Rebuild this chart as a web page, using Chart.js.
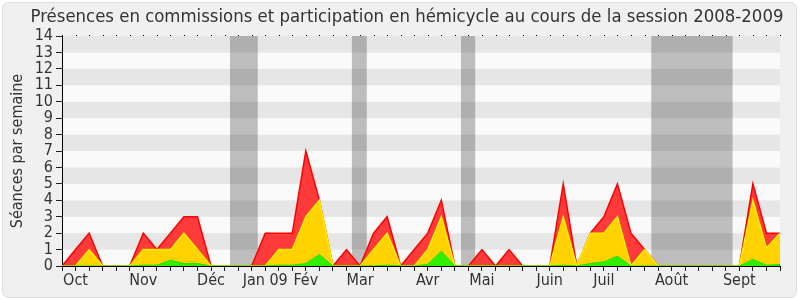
<!DOCTYPE html>
<html>
<head>
<meta charset="utf-8">
<script src="https://cdn.jsdelivr.net/npm/chart.js@4"></script>
<style>
  html, body { margin: 0; padding: 0; background: #fff; }
  #wrap { width: 800px; height: 300px; }
</style>
</head>
<body>
<div id="wrap"><canvas id="myChart" width="800" height="300"></canvas></div>
<script>
// Weekly values, session 2008-2009 (54 weeks)
const total = [0, 1, 2, 0, 0, 0, 2, 1, 2, 3, 3, 0, 0, 0, 0, 2, 2, 2, 7, 4, 0, 1, 0, 2, 3, 0, 1, 2, 4, 0,
               0, 1, 0, 1, 0, 0, 0, 5, 0, 2, 3, 5, 2, 1, 0, 0, 0, 0, 0, 0, 0, 5, 2, 2];
const commissions = [0, 0, 1, 0, 0, 0, 1, 1, 1, 2, 1, 0, 0, 0, 0, 0, 1, 1, 3, 4, 0, 0, 0, 1, 2, 0, 0, 1, 3, 0,
               0, 0, 0, 0, 0, 0, 0, 3, 0, 2, 2, 3, 0, 1, 0, 0, 0, 0, 0, 0, 0, 4, 1.1, 2];
const hemicycle = [0, 0, 0, 0, 0, 0, 0.05, 0.05, 0.35, 0.15, 0.15, 0, 0, 0, 0, 0, 0.05, 0.05, 0.15, 0.7, 0, 0, 0, 0, 0.05, 0, 0, 0.1, 0.9, 0,
               0, 0, 0, 0, 0, 0, 0, 0.05, 0, 0.15, 0.25, 0.6, 0, 0, 0, 0, 0, 0, 0, 0, 0, 0.4, 0.05, 0.1];

const monthLabels = ['Oct', 'Nov', 'Déc', 'Jan 09', 'Fév', 'Mar', 'Avr', 'Mai', 'Juin', 'Juil', 'Août', 'Sept'];
const monthWeeks = [1, 6, 11, 15, 18, 22, 27, 31, 36, 40, 45, 50];

// parliamentary breaks, in week index
const vacances = [[12.4, 14.45], [21.4, 22.5], [29.45, 30.5], [43.5, 49.5]];

const labels = total.map((v, i) => {
    const k = monthWeeks.indexOf(i);
    return k >= 0 ? monthLabels[k] : '';
});

const FONT = '"DejaVu Sans Condensed", "Liberation Sans", sans-serif';

const backdrop = {
    id: 'backdrop',
    beforeDraw(chart) {
        const { ctx, chartArea: a, scales: { y } } = chart;
        ctx.save();
        ctx.fillStyle = '#fff';
        ctx.fillRect(0, 0, chart.width, chart.height);
        ctx.fillStyle = '#f0f0f0';
        ctx.strokeStyle = '#dddddd';
        ctx.beginPath();
        ctx.roundRect(2.5, 2.5, chart.width - 6, chart.height - 5, 6);
        ctx.fill();
        ctx.stroke();
        for (let k = 0; k < 14; k++) {
            ctx.fillStyle = k % 2 ? '#e6e6e6' : '#fafafa';
            const top = y.getPixelForValue(k + 1);
            const bot = y.getPixelForValue(k);
            ctx.fillRect(a.left, top, a.right - a.left, bot - top);
        }
        // title
        ctx.fillStyle = '#333';
        ctx.font = '18.4px ' + FONT;
        ctx.textAlign = 'center';
        ctx.textBaseline = 'middle';
        ctx.fillText('Présences en commissions et participation en hémicycle au cours de la session 2008-2009', 407, 17);
        ctx.restore();
    },
    beforeDatasetsDraw(chart) {
        const { ctx, chartArea: a, scales: { x } } = chart;
        ctx.save();
        ctx.fillStyle = 'rgba(50,50,50,0.3)';
        vacances.forEach(([s, e]) => {
            const x0 = x.getPixelForValue(s);
            const x1 = x.getPixelForValue(e);
            ctx.fillRect(x0, a.top, x1 - x0, a.bottom - a.top);
        });
        // dotted top edge, one dot per week
        ctx.fillStyle = '#000';
        total.forEach((v, i) => {
            ctx.fillRect(Math.round(x.getPixelForValue(i)), a.top - 1, 1, 1);
        });
        ctx.restore();
    }
};

const ctx = document.getElementById('myChart').getContext('2d');
new Chart(ctx, {
    type: 'line',
    data: {
        labels: labels,
        datasets: [
            {
                label: 'Hémicycle',
                data: hemicycle,
                borderColor: '#22dd00',
                backgroundColor: '#33ee00',
                borderWidth: 1,
                fill: 'origin',
                pointRadius: 0,
                tension: 0
            },
            {
                label: 'Commissions',
                data: commissions,
                borderColor: '#ffee00',
                backgroundColor: '#ffd200',
                borderWidth: 1.5,
                fill: 'origin',
                pointRadius: 0,
                tension: 0
            },
            {
                label: 'Total',
                data: total,
                borderColor: '#ff0000',
                backgroundColor: '#ff3a3a',
                borderWidth: 1.5,
                fill: 'origin',
                pointRadius: 0,
                tension: 0
            }
        ]
    },
    options: {
        responsive: false,
        animation: false,
        layout: { padding: { top: 36, right: 20, left: 0, bottom: 0 } },
        plugins: {
            legend: { display: false },
            title: { display: false },
            tooltip: { enabled: false }
        },
        scales: {
            x: {
                type: 'category',
                offset: false,
                grid: { drawOnChartArea: false, drawTicks: true, tickLength: 5, color: '#222' },
                border: { color: '#000', width: 1 },
                ticks: {
                    autoSkip: false,
                    maxRotation: 0,
                    padding: 0,
                    color: '#333',
                    font: { family: FONT, size: 16 }
                },
                afterFit(scale) { scale.height = 34; }
            },
            y: {
                min: 0,
                max: 14,
                grid: { drawOnChartArea: false, drawTicks: true, tickLength: 6, color: '#222' },
                border: { color: '#000', width: 1 },
                ticks: {
                    stepSize: 1,
                    autoSkip: false,
                    padding: 3,
                    color: '#333',
                    font: { family: FONT, size: 16 }
                },
                title: {
                    display: true,
                    text: 'Séances par semaine',
                    color: '#333',
                    padding: { top: 8, bottom: 0 },
                    font: { family: FONT, size: 16 }
                },
                afterFit(scale) { scale.width = 62; }
            }
        }
    },
    plugins: [backdrop]
});
</script>
</body>
</html>
